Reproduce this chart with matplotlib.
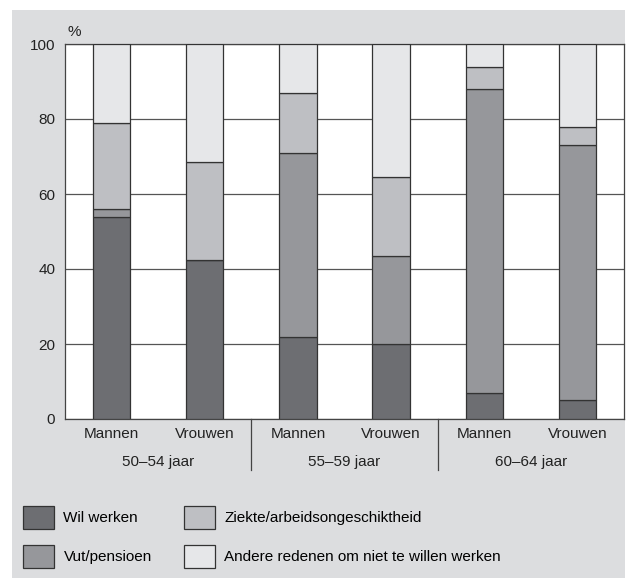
import numpy as np
import matplotlib.pyplot as plt
from matplotlib.patches import Rectangle
import matplotlib.transforms as mtransforms

plt.rcParams['font.family'] = ['Liberation Sans', 'DejaVu Sans']
plt.rcParams['font.size'] = 11

# data (percentages)
bar_labels = ["Mannen", "Vrouwen", "Mannen", "Vrouwen", "Mannen", "Vrouwen"]
groups = ["50\u201354 jaar", "55\u201359 jaar", "60\u201364 jaar"]
wil_werken = [54, 42.5, 22, 20, 7, 5]
vut_pensioen = [2, 0, 49, 23.5, 81, 68]
ziekte = [23, 26, 16, 21, 6, 5]
andere = [100 - a - b - c for a, b, c in zip(wil_werken, vut_pensioen, ziekte)]

series = [
    ("Wil werken", wil_werken, "#6d6e72"),
    ("Vut/pensioen", vut_pensioen, "#96979b"),
    ("Ziekte/arbeidsongeschiktheid", ziekte, "#bebfc3"),
    ("Andere redenen om niet te willen werken", andere, "#e6e7e9"),
]

W, H = 634, 578
fig = plt.figure(figsize=(W / 100, H / 100), dpi=100)
fig.patch.set_facecolor("white")

# grey panel behind everything
fig.patches.append(Rectangle((12 / W, 0), (625 - 12) / W, 1 - 10 / H,
                             transform=fig.transFigure, fc="#dcdddf", ec="none", zorder=-5))

ax = fig.add_axes([65 / W, (H - 419) / H, 559 / W, 375 / H])
ax.set_facecolor("white")

x = np.arange(len(bar_labels))
bottom = np.zeros(len(x))
handles = []
for name, vals, col in series:
    vals = np.array(vals, dtype=float)
    b = ax.bar(x, vals, 0.4, bottom=bottom, color=col, edgecolor="#333333",
               linewidth=0.9, label=name, zorder=3)
    handles.append(b)
    bottom += vals

ax.set_xlim(-0.5, 5.5)
ax.set_ylim(0, 100)
ax.set_yticks([0, 20, 40, 60, 80, 100])
ax.yaxis.grid(True, color="#555555", linewidth=0.9, zorder=0)
ax.set_axisbelow(True)
ax.set_xticks(x)
ax.set_xticklabels(bar_labels)
ax.tick_params(axis="both", length=0, labelsize=11, colors="#222222")
ax.tick_params(axis="x", pad=6)
ax.tick_params(axis="y", pad=7)
for s in ax.spines.values():
    s.set_color("#444444")
    s.set_linewidth(0.9)

ax.text(0.016, 1.012, "%", transform=ax.transAxes, ha="center", va="bottom",
        fontsize=11, color="#222222")

# group separators and labels below the axis
trans = mtransforms.blended_transform_factory(ax.transData, ax.transAxes)
for xs in [1.5, 3.5]:
    ax.plot([xs, xs], [0, -(470 - 419) / 375], transform=trans, color="#444444",
            linewidth=0.9, clip_on=False)
for i, g in enumerate(groups):
    ax.text(2 * i + 0.5, -(462 - 419) / 375, g, transform=trans, ha="center",
            va="center", fontsize=11, color="#222222")

fig.legend(handles=handles, labels=[s[0] for s in series], ncol=2,
           loc="upper left", bbox_to_anchor=(23 / W, 1 - 506 / H),
           frameon=False, borderpad=0, borderaxespad=0,
           handlelength=2.05, handleheight=1.93, handletextpad=0.6,
           columnspacing=2.1, labelspacing=1.05, fontsize=11)

fig.savefig("out.png", dpi=100)
